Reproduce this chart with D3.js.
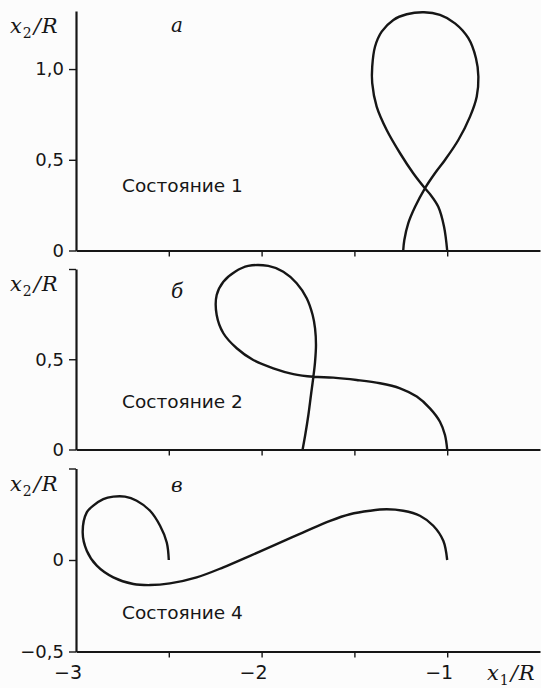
<!DOCTYPE html>
<html>
<head>
<meta charset="utf-8">
<script src="https://cdn.jsdelivr.net/npm/d3@7"></script>
<style>
  body { margin: 0; background: #fcfcfc; }
  svg { display: block; }
</style>
</head>
<body>
<div id="chart"></div>
<script>
// Trajectory data, x1/R and x2/R pairs
const curveState1 = [
  [-1.0, 0], [-1.017, 0.131], [-1.048, 0.241], [-1.089, 0.306], [-1.120, 0.343],
  [-1.183, 0.426], [-1.254, 0.536], [-1.326, 0.664], [-1.380, 0.793], [-1.404, 0.922],
  [-1.404, 1.013], [-1.389, 1.123], [-1.353, 1.206], [-1.290, 1.271], [-1.218, 1.302],
  [-1.125, 1.313], [-1.039, 1.298], [-0.958, 1.252], [-0.886, 1.170], [-0.845, 1.060],
  [-0.832, 0.958], [-0.841, 0.848], [-0.877, 0.738], [-0.940, 0.609], [-1.012, 0.499],
  [-1.066, 0.426], [-1.120, 0.343], [-1.173, 0.241], [-1.210, 0.150], [-1.231, 0.058],
  [-1.237, 0]
];
const curveState2 = [
  [-1.0, 0], [-1.012, 0.080], [-1.039, 0.154], [-1.093, 0.228], [-1.164, 0.293],
  [-1.254, 0.339], [-1.362, 0.367], [-1.488, 0.385], [-1.614, 0.398], [-1.721, 0.403],
  [-1.829, 0.418], [-1.937, 0.450], [-2.045, 0.496], [-2.134, 0.561], [-2.206, 0.644],
  [-2.242, 0.745], [-2.242, 0.856], [-2.206, 0.930], [-2.143, 0.985], [-2.072, 1.017],
  [-1.964, 1.017], [-1.883, 0.985], [-1.811, 0.921], [-1.757, 0.838], [-1.725, 0.745],
  [-1.712, 0.671], [-1.707, 0.579], [-1.712, 0.486], [-1.721, 0.403], [-1.734, 0.302],
  [-1.748, 0.191], [-1.765, 0.080], [-1.779, 0]
];
const curveState4 = [
  [-1.0, 0], [-1.021, 0.105], [-1.075, 0.187], [-1.147, 0.242], [-1.237, 0.269],
  [-1.326, 0.277], [-1.416, 0.269], [-1.524, 0.250], [-1.631, 0.214], [-1.775, 0.151],
  [-1.919, 0.087], [-2.062, 0.023], [-2.206, -0.040], [-2.350, -0.095], [-2.494, -0.128],
  [-2.601, -0.137], [-2.691, -0.131], [-2.799, -0.095], [-2.888, -0.031], [-2.942, 0.051],
  [-2.964, 0.151], [-2.942, 0.260], [-2.907, 0.297], [-2.853, 0.333], [-2.799, 0.346],
  [-2.736, 0.346], [-2.673, 0.324], [-2.601, 0.269], [-2.547, 0.187], [-2.511, 0.096],
  [-2.5, 0]
];

const xDomain = [-3, -0.5];
const xTickValues = [-2.5, -2, -1.5, -1];
const xTickLabels = [-3, -2, -1];

const yDomains = [[0, 1.32], [0, 1], [-0.5, 0.5]];
const yTickValues = [[0, 0.5, 1], [0, 0.5, 1], [-0.5, 0, 0.5]];
const yTickLabels = [[0, 0.5, 1], [0, 0.5], [-0.5, 0]];
const panelLetters = ["а", "б", "в"];
const stateLabels = ["Состояние 1", "Состояние 2", "Состояние 4"];
const curves = [curveState1, curveState2, curveState4];

const width = 541, height = 688;
const left = 76, right = 540;

// vertical placement of the three panels (pixel layout)
const layout = [
  { top: 11, bottom: 250.5, letterY: 32, stateY: 192 },
  { top: 269, bottom: 449.5, letterY: 298, stateY: 408 },
  { top: 468.5, bottom: 651.5, letterY: 492, stateY: 619 }
];

const ink = "#161616";
const fmt = v => (Number.isInteger(v) && v !== 1 ? String(v) : d3.format(".1f")(v).replace(".", ","))
  .replace("-", "\u2212");

const svg = d3.select("#chart").append("svg")
  .attr("width", width)
  .attr("height", height)
  .style("background", "#fcfcfc");

const x = d3.scaleLinear().domain(xDomain).range([left, right]);

function axisTitle(sel, xPos, yPos, sub) {
  const t = sel.append("text")
    .attr("x", xPos)
    .attr("y", yPos)
    .attr("fill", ink)
    .style("font-family", "'DejaVu Serif', serif")
    .style("font-style", "italic")
    .style("font-size", "21px");
  t.append("tspan").text("x");
  t.append("tspan").attr("dy", 5).attr("dx", 1)
    .style("font-size", "14px").style("font-style", "normal").text(sub);
  t.append("tspan").attr("dy", -5).attr("dx", 2).text("/");
  t.append("tspan").attr("dx", 1).text("R");
}

layout.forEach((p, i) => {
  const y = d3.scaleLinear().domain(yDomains[i]).range([p.bottom, p.top]);
  const g = svg.append("g");

  // y axis: ticks to the left
  const yAxis = d3.axisLeft(y)
    .tickValues(yTickValues[i].filter(v => !(i === 0 && v > 1)))
    .tickSize(7)
    .tickSizeOuter(0)
    .tickPadding(5)
    .tickFormat(v => (yTickLabels[i].includes(v) ? fmt(v) : ""));
  const ya = g.append("g").attr("transform", `translate(${left},0)`).call(yAxis);
  ya.select(".domain").attr("stroke", ink).attr("stroke-width", 2.2);
  ya.selectAll(".tick line").attr("stroke", ink).attr("stroke-width", 1.4);
  ya.selectAll(".tick text")
    .attr("fill", ink)
    .style("font-family", "'DejaVu Sans', sans-serif")
    .style("font-size", "18px");

  // x axis: ticks pointing down, no labels
  const xAxis = d3.axisBottom(x)
    .tickValues(xTickValues)
    .tickSize(6)
    .tickSizeOuter(0)
    .tickFormat("");
  const xa = g.append("g").attr("transform", `translate(0,${p.bottom})`).call(xAxis);
  xa.select(".domain").attr("stroke", ink).attr("stroke-width", 2.2);
  xa.selectAll(".tick line").attr("stroke", ink).attr("stroke-width", 1.4);

  axisTitle(g, 10, p.top + 22, "2");

  // panel letter
  g.append("text")
    .attr("x", 171)
    .attr("y", p.letterY)
    .attr("fill", ink)
    .style("font-family", "'DejaVu Serif', serif")
    .style("font-style", "italic")
    .style("font-size", "20px")
    .text(panelLetters[i]);

  // state label
  g.append("text")
    .attr("x", 122)
    .attr("y", p.stateY)
    .attr("fill", ink)
    .style("font-family", "'DejaVu Sans', sans-serif")
    .style("font-size", "18.5px")
    .text(stateLabels[i]);

  // trajectory
  const line = d3.line()
    .x(d => x(d[0]))
    .y(d => y(d[1]))
    .curve(d3.curveCatmullRom.alpha(0.5));
  g.append("path")
    .datum(curves[i])
    .attr("d", line)
    .attr("fill", "none")
    .attr("stroke", ink)
    .attr("stroke-width", 2.4)
    .attr("stroke-linejoin", "round");
});

// x tick labels (digit centred on the tick) and axis title on the bottom panel
const last = layout[2];
svg.append("g").selectAll("text")
  .data(xTickLabels)
  .enter()
  .append("text")
  .attr("x", d => x(d) + 6)
  .attr("y", last.bottom + 27)
  .attr("text-anchor", "end")
  .attr("fill", ink)
  .style("font-family", "'DejaVu Sans', sans-serif")
  .style("font-size", "19px")
  .text(d => fmt(d));

axisTitle(svg, 487, last.bottom + 28, "1");
</script>
</body>
</html>
